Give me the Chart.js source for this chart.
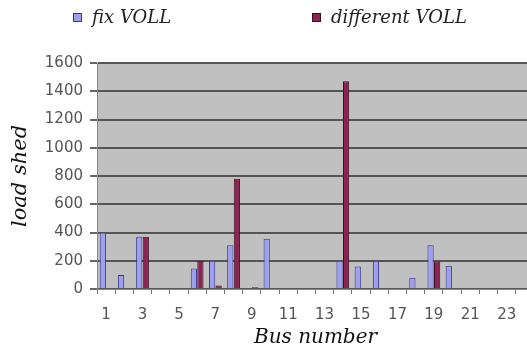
<!DOCTYPE html>
<html>
<head>
<meta charset="utf-8">
<script src="https://cdn.jsdelivr.net/npm/chart.js@4/dist/chart.umd.min.js"></script>
<style>
  html, body { margin: 0; padding: 0; background: #fff; overflow: hidden; }
  #wrap { width: 545px; height: 352px; }
</style>
</head>
<body>
<div id="wrap"><canvas id="chart"></canvas></div>
<script>
// bus numbers (the 24th is cut off at the right edge in the original)
const busNumbers = ['1','2','3','4','5','6','7','8','9','10','11','12','13','14','15','16','17','18','19','20','21','22','23','24'];
const fixVoll = [400, 100, 370, 0, 0, 145, 200, 310, 0, 355, 0, 0, 0, 200, 160, 200, 0, 80, 310, 165, 0, 0, 0, 0];
const differentVoll = [0, 0, 370, 0, 0, 200, 25, 780, 12, 0, 0, 0, 0, 1470, 0, 0, 0, 0, 195, 0, 0, 0, 0, 0];
const yTicks = [0, 200, 400, 600, 800, 1000, 1200, 1400, 1600];

const serifItalic = { family: '"DejaVu Serif", serif', style: 'italic' };
const legendX = [73, 312];

// grey plot background like the old Excel chart
const plotBackground = {
  id: 'plotBackground',
  beforeDraw(chart) {
    const { ctx, chartArea: a } = chart;
    ctx.save();
    ctx.fillStyle = '#c0c0c0';
    ctx.fillRect(a.left, a.top, a.right - a.left, a.bottom - a.top);
    ctx.restore();
  }
};

// the two legend entries sit far apart, so place them by hand
const spreadLegend = {
  id: 'spreadLegend',
  afterDraw(chart) {
    const ctx = chart.ctx;
    ctx.save();
    ctx.font = 'italic 18px "DejaVu Serif", serif';
    ctx.textBaseline = 'middle';
    chart.data.datasets.forEach((ds, i) => {
      const x = legendX[i], y = 18;
      ctx.fillStyle = ds.backgroundColor;
      ctx.fillRect(x, y - 5, 9, 9);
      ctx.strokeStyle = ds.borderColor;
      ctx.lineWidth = 1;
      ctx.strokeRect(x + 0.5, y - 4.5, 8, 8);
      ctx.fillStyle = '#222';
      ctx.fillText(ds.label, x + 19, y);
    });
    ctx.restore();
  }
};

new Chart(document.getElementById('chart'), {
  type: 'bar',
  data: {
    labels: busNumbers,
    datasets: [{
      label: 'fix VOLL',
      data: fixVoll,
      backgroundColor: '#9f9ff0',
      borderColor: '#3a3a8a',
      borderWidth: 1,
      categoryPercentage: 0.72,
      barPercentage: 0.95
    }, {
      label: 'different VOLL',
      data: differentVoll,
      backgroundColor: '#8b2452',
      borderColor: '#3a1020',
      borderWidth: 1,
      categoryPercentage: 0.72,
      barPercentage: 0.95
    }]
  },
  options: {
    responsive: true,
    maintainAspectRatio: false,
    animation: false,
    layout: { padding: { top: 63, right: 11, left: 0, bottom: 0 } },
    plugins: {
      tooltip: { enabled: false },
      legend: { display: false }
    },
    scales: {
      x: {
        offset: true,
        grid: { offset: true, drawOnChartArea: false, drawTicks: true, tickLength: 5, color: '#777' },
        border: { color: '#888', width: 1 },
        ticks: {
          autoSkip: false,
          maxRotation: 0,
          color: '#555',
          padding: 12,
          font: { family: '"DejaVu Sans", sans-serif', size: 15 },
          callback: (v, i) => (i % 2 === 0 ? busNumbers[i] : '')
        },
        title: {
          display: true,
          text: 'Bus number',
          color: '#111',
          padding: { top: 0, bottom: 2 },
          font: { ...serifItalic, size: 20 }
        },
        afterFit: s => { s.height = 63; }
      },
      y: {
        min: 0,
        max: 1600,
        afterBuildTicks: s => { s.ticks = yTicks.map(v => ({ value: v })); },
        grid: { color: '#555', lineWidth: 2, tickLength: 7, tickColor: '#666' },
        border: { color: '#888', width: 1 },
        ticks: {
          autoSkip: false,
          color: '#555',
          padding: 7,
          font: { family: '"DejaVu Sans", sans-serif', size: 15 },
          callback: v => String(v)
        },
        title: {
          display: true,
          text: 'load shed',
          color: '#111',
          padding: { top: 8, bottom: 4 },
          font: { ...serifItalic, size: 21 }
        },
        afterFit: s => { s.width = 97; }
      }
    }
  },
  plugins: [plotBackground, spreadLegend]
});
</script>
</body>
</html>
